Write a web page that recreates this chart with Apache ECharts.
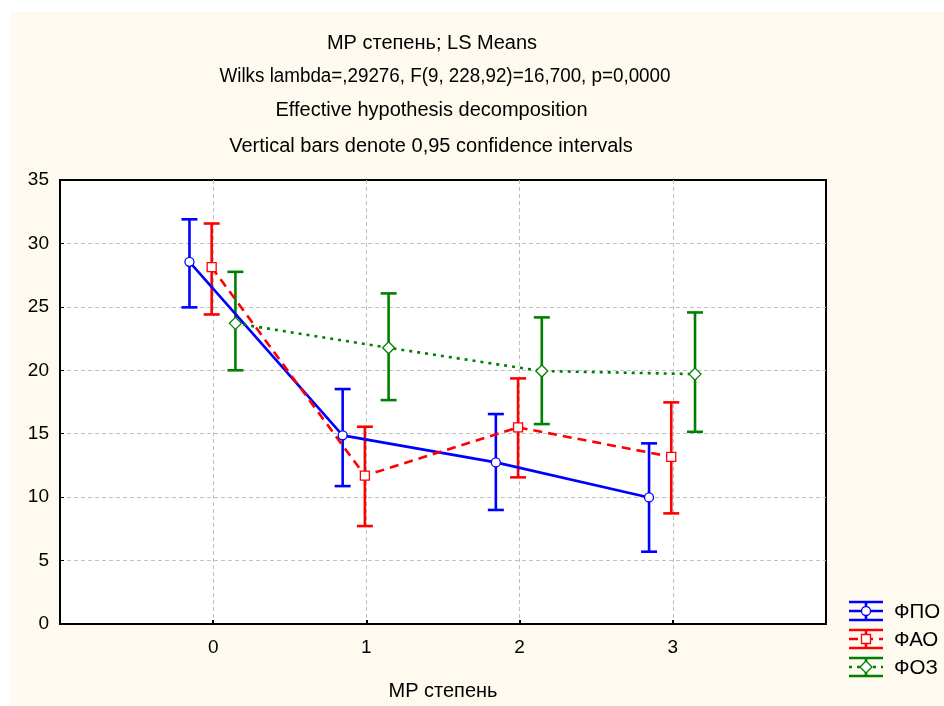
<!DOCTYPE html>
<html><head><meta charset="utf-8">
<script src="https://cdn.jsdelivr.net/npm/echarts@6/dist/echarts.min.js"></script>
<style>html,body{margin:0;padding:0;background:#fff}#c{width:944px;height:706px}</style>
</head><body><div id="c"></div>
<script>
const categories = [0, 1, 2, 3];
const seriesNames = ['ФПО', 'ФАО', 'ФОЗ'];
const fpoMean = [28.55, 14.87, 12.74, 9.98];
const fpoLow  = [24.96, 10.87, 8.99, 5.70];
const fpoHigh = [31.90, 18.52, 16.55, 14.24];
const faoMean = [28.13, 11.69, 15.50, 13.18];
const faoLow  = [24.40, 7.72, 11.56, 8.72];
const faoHigh = [31.57, 15.55, 19.36, 17.47];
const fozMean = [23.70, 21.77, 19.94, 19.70];
const fozLow  = [20.00, 17.65, 15.76, 15.15];
const fozHigh = [27.76, 26.06, 24.17, 24.56];
const yTicks = [0, 5, 10, 15, 20, 25, 30, 35];
const titleLines = ['MP степень; LS Means',
  'Wilks lambda=,29276, F(9, 228,92)=16,700, p=0,0000',
  'Effective hypothesis decomposition',
  'Vertical bars denote 0,95 confidence intervals'];
const xAxisName = 'MP степень';

const FONT = 'Liberation Sans, Arial, sans-serif';
const colors = ['#0000FF', '#FF0000', '#008000'];
const offsets = [-0.155, -0.01, 0.145];
const symbols = ['circle', 'rect', 'diamond'];
const symbolSizes = [9, 9, 12];
const lineTypes = ['solid', [9, 6], [3, 5]];
const means = [fpoMean, faoMean, fozMean];
const lows = [fpoLow, faoLow, fozLow];
const highs = [fpoHigh, faoHigh, fozHigh];

const series = [];
seriesNames.forEach((name, s) => {
  series.push({
    type: 'custom', name: name + ' CI', z: 2, silent: true,
    data: categories.map((c, i) => [c + offsets[s], lows[s][i], highs[s][i]]),
    encode: {x: 0, y: [1, 2]},
    renderItem: (params, api) => {
      const x = api.value(0);
      const lo = api.coord([x, api.value(1)]);
      const hi = api.coord([x, api.value(2)]);
      const hw = 8;
      const st = {stroke: colors[s], lineWidth: 2.6};
      return {type: 'group', children: [
        {type: 'line', shape: {x1: lo[0], y1: lo[1], x2: hi[0], y2: hi[1]}, style: st},
        {type: 'line', shape: {x1: hi[0] - hw, y1: hi[1], x2: hi[0] + hw, y2: hi[1]}, style: st},
        {type: 'line', shape: {x1: lo[0] - hw, y1: lo[1], x2: lo[0] + hw, y2: lo[1]}, style: st}
      ]};
    }
  });
  series.push({
    type: 'line', name: name, z: 3,
    data: categories.map((c, i) => [c + offsets[s], means[s][i]]),
    symbol: symbols[s], symbolSize: symbolSizes[s], showAllSymbol: true,
    lineStyle: {color: colors[s], width: 2.6, type: lineTypes[s]},
    itemStyle: {color: '#fff', borderColor: colors[s], borderWidth: 1.3},
    animation: false
  });
});

// legend drawn as graphic
const legendGraphic = [];
seriesNames.forEach((name, s) => {
  const cy = 611 + s * 28;
  const x0 = 849, x1 = 883, xm = 866;
  const st = {stroke: colors[s], lineWidth: 2.6};
  const children = [
    {type: 'line', shape: {x1: x0, y1: cy - 9, x2: x1, y2: cy - 9}, style: st},
    {type: 'line', shape: {x1: x0, y1: cy + 9, x2: x1, y2: cy + 9}, style: st},
    {type: 'line', shape: {x1: xm, y1: cy - 9, x2: xm, y2: cy + 9}, style: st},
    {type: 'line', shape: {x1: x0, y1: cy, x2: x1, y2: cy},
      style: {stroke: colors[s], lineWidth: 2.6, lineDash: s === 0 ? null : lineTypes[s]}}
  ];
  if (s === 0) children.push({type: 'circle', shape: {cx: xm, cy: cy, r: 4.5}, style: {fill: '#fff', stroke: colors[s], lineWidth: 1.3}});
  if (s === 1) children.push({type: 'rect', shape: {x: xm - 4.5, y: cy - 4.5, width: 9, height: 9}, style: {fill: '#fff', stroke: colors[s], lineWidth: 1.3}});
  if (s === 2) children.push({type: 'polygon', shape: {points: [[xm, cy - 6], [xm + 6, cy], [xm, cy + 6], [xm - 6, cy]]}, style: {fill: '#fff', stroke: colors[s], lineWidth: 1.3}});
  children.push({type: 'text', style: {x: 894, y: cy + 1, text: name, fill: '#000', font: '20.5px ' + FONT, textVerticalAlign: 'middle'}});
  legendGraphic.push({type: 'group', z: 10, children});
});

// title lines as text (line 2 slightly condensed as in the reference)
const titleCfg = [
  {x: 432, y: 43.5, sx: 1},
  {x: 445, y: 76.5, sx: 0.94},
  {x: 431.5, y: 110.5, sx: 1},
  {x: 431, y: 146, sx: 1}
];
const titleGraphic = titleLines.map((t, i) => ({
  type: 'text', x: titleCfg[i].x, y: titleCfg[i].y, scaleX: titleCfg[i].sx, z: 10,
  style: {text: t, fill: '#000', font: '20px ' + FONT, textAlign: 'center', textVerticalAlign: 'middle'}
}));

const chart = echarts.init(document.getElementById('c'), null, {renderer: 'canvas'});
chart.setOption({
  animation: false,
  backgroundColor: '#fff',
  graphic: [
    {type: 'rect', z: -10, shape: {x: 10, y: 12, width: 934, height: 694}, style: {fill: '#FFFAF0'}},
    ...titleGraphic,
    ...legendGraphic
  ],
  grid: {left: 60, top: 180, right: 118, bottom: 82, outerBoundsMode: 'none', containLabel: false,
    show: true, backgroundColor: '#fff', borderColor: '#000', borderWidth: 2},
  xAxis: {
    type: 'value', min: -1, max: 4, interval: 1,
    name: xAxisName, nameLocation: 'middle', nameGap: 57,
    nameTextStyle: {fontFamily: FONT, fontSize: 20, color: '#000'},
    axisLine: {show: true, onZero: false, lineStyle: {color: '#000', width: 2}},
    axisTick: {show: true, inside: true, length: 4, lineStyle: {color: '#000', width: 2}},
    axisLabel: {fontFamily: FONT, fontSize: 19, color: '#000', margin: 14,
      formatter: v => categories.indexOf(v) >= 0 ? String(v) : ''},
    splitLine: {show: true, showMinLine: false, showMaxLine: false, lineStyle: {color: '#C0C0C0', type: [4, 3], width: 1}}
  },
  yAxis: {
    type: 'value', min: 0, max: 35, interval: 5,
    axisLine: {show: true, onZero: false, lineStyle: {color: '#000', width: 2}},
    axisTick: {show: true, inside: true, length: 4, lineStyle: {color: '#000', width: 1}},
    axisLabel: {fontFamily: FONT, fontSize: 19, color: '#000', margin: 11,
      formatter: v => yTicks.indexOf(v) >= 0 ? String(v) : ''},
    splitLine: {show: true, showMinLine: false, showMaxLine: false, lineStyle: {color: '#C0C0C0', type: [4, 3], width: 1}}
  },
  series
});
</script></body></html>
